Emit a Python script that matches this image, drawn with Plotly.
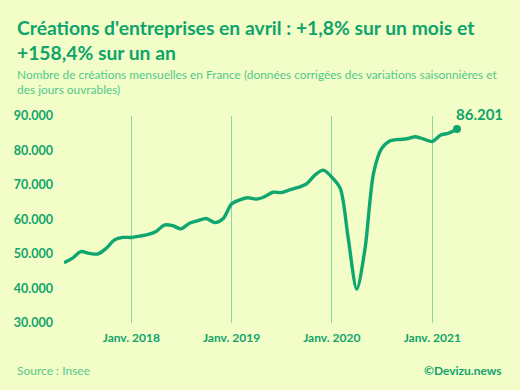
import pandas as pd
import plotly.graph_objects as go

start_month = "2017-05-01"
creations = [
    47500, 48800, 50700, 50200, 50000, 51600, 54100, 54800,
    54800, 55200, 55600, 56500, 58400, 58200, 57300, 58900, 59700, 60300, 59100, 60200,
    64500, 65700, 66300, 65900, 66600, 67900, 67800, 68600, 69300, 70300, 72900, 74300,
    72300, 69000, 54500, 39800, 51500, 73400, 80600, 82800, 83200, 83400, 84000, 83300,
    82600, 84500, 85000, 86201,
]
months = pd.date_range(start_month, periods=len(creations), freq="MS")

x_tick_vals = ["2018-01-01", "2019-01-01", "2020-01-01", "2021-01-01"]
x_tick_text = ["Janv. 2018", "Janv. 2019", "Janv. 2020", "Janv. 2021"]
y_tick_vals = [30000, 40000, 50000, 60000, 70000, 80000, 90000]
y_tick_text = ["30.000", "40.000", "50.000", "60.000", "70.000", "80.000", "90.000"]
last_label = "86.201"

BG = "#f3fdc8"
GREEN = "#0fa46b"
LINE = "#10a670"
LIGHT = "#52c98a"
FONT = "Lato"

W, H = 520, 390
ML, MR, MT, MB = 64, 63, 116, 67

fig = go.Figure()
fig.add_trace(go.Scatter(
    x=months, y=creations, mode="lines",
    line=dict(color=LINE, width=3.4, shape="spline", smoothing=0.8),
    hoverinfo="skip", cliponaxis=False,
))
fig.add_trace(go.Scatter(
    x=[months[-1]], y=[creations[-1]], mode="markers",
    marker=dict(color=LINE, size=8), cliponaxis=False, hoverinfo="skip",
))
fig.add_annotation(
    x=months[-1], y=creations[-1], text=f"<b>{last_label}</b>", showarrow=False,
    xanchor="left", yanchor="bottom", xshift=-3, yshift=4,
    font=dict(family=FONT, size=15, color=GREEN),
)

fig.update_layout(
    width=W, height=H,
    paper_bgcolor=BG, plot_bgcolor=BG,
    margin=dict(l=ML, r=MR, t=MT, b=MB),
    showlegend=False,
    font=dict(family=FONT, color=GREEN),
    xaxis=dict(
        range=[months[0], months[-1]],
        tickvals=x_tick_vals, ticktext=x_tick_text,
        showgrid=True, gridcolor="#86d8a5", gridwidth=1,
        zeroline=False, showline=False, ticks="",
        tickfont=dict(family=FONT, size=12, color=GREEN, weight="bold"),
        ticklabelstandoff=6,
    ),
    yaxis=dict(
        range=[30000, 90000],
        tickvals=y_tick_vals, ticktext=y_tick_text,
        showgrid=False, zeroline=False, showline=False, ticks="",
        tickfont=dict(family=FONT, size=12.5, color=GREEN, weight="bold"),
        ticklabelstandoff=10,
    ),
)

def px_x(px):
    return (px - ML) / (W - ML - MR)

def px_y(py):
    return (H - MB - py) / (H - MT - MB)

fig.add_annotation(xref="paper", yref="paper", x=px_x(15), y=px_y(14), xanchor="left", yanchor="top",
                   showarrow=False, align="left",
                   text="<b>Créations d'entreprises en avril : +1,8% sur un mois et<br>+158,4% sur un an</b>",
                   font=dict(family=FONT, size=19.3, color=GREEN))
fig.add_annotation(xref="paper", yref="paper", x=px_x(15), y=px_y(65), xanchor="left", yanchor="top",
                   showarrow=False, align="left",
                   text="Nombre de créations mensuelles en France (données corrigées des variations saisonnières et<br>des jours ouvrables)",
                   font=dict(family=FONT, size=11.9, color=LIGHT))
fig.add_annotation(xref="paper", yref="paper", x=px_x(15), y=px_y(370), xanchor="left", yanchor="middle",
                   showarrow=False, align="left", text="Source : Insee",
                   font=dict(family=FONT, size=12, color=LIGHT))
fig.add_annotation(xref="paper", yref="paper", x=px_x(504), y=px_y(370), xanchor="right", yanchor="middle",
                   showarrow=False, align="right", text="<b>©Devizu.news</b>",
                   font=dict(family=FONT, size=12, color=GREEN))

fig.write_html(
    "out.html",
    config={"displayModeBar": False, "staticPlot": True},
    post_script="document.body.style.margin='0';document.body.style.background='" + BG + "';",
)
